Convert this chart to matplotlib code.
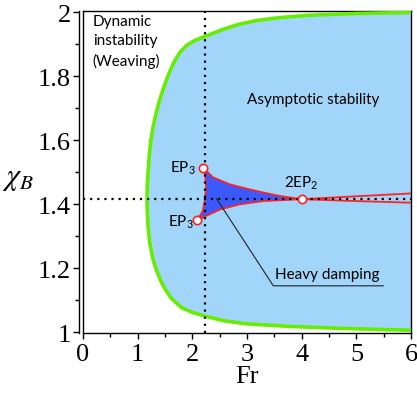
import numpy as np
import matplotlib
matplotlib.use("Agg")
import matplotlib.pyplot as plt
from matplotlib.ticker import MultipleLocator

# --- stability boundary (green) ---
upper_fr = [1.17, 1.175, 1.19, 1.21, 1.24, 1.28, 1.33, 1.39, 1.46, 1.55, 1.65, 1.77, 1.90, 2.05,
            2.23, 2.56, 2.85, 3.18, 3.60, 4.10, 5.00, 6.00]
upper_chi = [1.42, 1.46, 1.50, 1.55, 1.60, 1.64, 1.68, 1.72, 1.757, 1.80, 1.84, 1.875, 1.898, 1.913,
             1.925, 1.947, 1.963, 1.975, 1.984, 1.991, 1.997, 2.00]
lower_fr = [1.17, 1.175, 1.19, 1.22, 1.27, 1.33, 1.41, 1.50, 1.62, 1.80, 2.00, 2.23, 2.60, 3.00,
            3.79, 4.70, 6.00]
lower_chi = [1.42, 1.38, 1.33, 1.28, 1.235, 1.20, 1.165, 1.135, 1.105, 1.077, 1.062, 1.05, 1.035,
             1.026, 1.018, 1.012, 1.006]

# --- heavy damping region (dark blue) ---
hd_top_fr = [2.19, 2.38, 2.69, 2.99, 3.29, 3.60, 4.00]
hd_top_chi = [1.515, 1.484, 1.462, 1.449, 1.437, 1.426, 1.416]
hd_bot_fr = [4.00, 3.29, 2.87, 2.51, 2.09]
hd_bot_chi = [1.416, 1.410, 1.400, 1.384, 1.351]
hd_left_fr = [2.09, 2.19, 2.23, 2.25, 2.23, 2.19]
hd_left_chi = [1.351, 1.379, 1.416, 1.456, 1.500, 1.515]

# tails beyond the double EP2
tail_up_fr = [4.00, 5.00, 6.00]
tail_up_chi = [1.416, 1.425, 1.434]
tail_lo_fr = [4.00, 5.00, 6.00]
tail_lo_chi = [1.416, 1.410, 1.405]

# exceptional points
ep_fr = [2.19, 2.09, 4.00]
ep_chi = [1.515, 1.351, 1.416]

fr_crit = 2.23
chi_crit = 1.416

green = "#66ee00"
light = "#a2d5fa"
dark = "#3a5aff"
red = "#ff2222"

fig = plt.figure(figsize=(4.17, 4.06), dpi=100)
ax = fig.add_axes([0.199, 0.177, 0.787, 0.793])

# light blue stable region
poly_fr = upper_fr + [6.0] + lower_fr[::-1]
poly_chi = upper_chi + [1.006] + lower_chi[::-1]
ax.fill(poly_fr, poly_chi, color=light, lw=0, zorder=1)
ax.plot(upper_fr, upper_chi, color=green, lw=2.6, zorder=3, solid_capstyle="butt")
ax.plot(lower_fr, lower_chi, color=green, lw=2.6, zorder=3, solid_capstyle="butt")

# heavy damping
hd_fr = hd_top_fr + hd_bot_fr[1:] + hd_left_fr[1:]
hd_chi = hd_top_chi + hd_bot_chi[1:] + hd_left_chi[1:]
ax.fill(hd_fr, hd_chi, facecolor=dark, edgecolor=red, lw=1.3, zorder=4)
ax.plot(tail_up_fr, tail_up_chi, color=red, lw=1.3, zorder=4)
ax.plot(tail_lo_fr, tail_lo_chi, color=red, lw=1.3, zorder=4)

# dotted guides
ax.axvline(fr_crit, color="black", lw=1.6, ls=(0, (1, 2.2)), zorder=5)
ax.axhline(chi_crit, color="black", lw=1.6, ls=(0, (1, 2.2)), zorder=5)

ax.plot(ep_fr, ep_chi, "o", ms=6, mfc="white", mec=red, mew=1.2, zorder=6)

# leader for heavy damping
ax.plot([2.44, 3.48, 5.49], [1.418, 1.145, 1.145], color="#222222", lw=0.8, zorder=5)

sans = "Lato"
fs = 11
ax.text(0.18, 1.996, "Dynamic\ninstability\n(Weaving)", family=sans, fontsize=fs,
        va="top", ha="left", linespacing=1.5, zorder=7)
ax.text(4.21, 1.728, "Asymptotic stability", family=sans, fontsize=fs,
        va="center", ha="center", zorder=7)
ax.text(3.51, 1.181, "Heavy damping", family=sans, fontsize=fs,
        va="center", ha="left", zorder=7)
ax.text(2.06, 1.516, r"EP$_\mathregular{3}$", family=sans, fontsize=fs,
        va="center", ha="right", zorder=7)
ax.text(2.02, 1.347, r"EP$_\mathregular{3}$", family=sans, fontsize=fs,
        va="center", ha="right", zorder=7)
ax.text(4.0, 1.468, r"2EP$_\mathregular{2}$", family=sans, fontsize=fs,
        va="center", ha="center", zorder=7)

ax.set_xlim(0, 6)
ax.set_ylim(0.997, 2.004)
ax.xaxis.set_major_locator(MultipleLocator(1))
ax.xaxis.set_minor_locator(MultipleLocator(0.5))
ax.set_yticks([1, 1.2, 1.4, 1.6, 1.8, 2], ["1", "1.2", "1.4", "1.6", "1.8", "2"])
ax.yaxis.set_minor_locator(MultipleLocator(0.1))

serif = "Liberation Serif"
ax.tick_params(which="major", direction="out", length=4, width=1, pad=2,
               labelsize=19, labelfontfamily=serif)
ax.tick_params(which="minor", direction="out", length=3, width=1)
ax.tick_params(axis="x", pad=3)

for s in ax.spines.values():
    s.set_linewidth(1.0)
ax.spines["left"].set_position(("outward", 2.6))
# inner frame line (double left border)
ax.plot([0, 0], [0, 1], transform=ax.transAxes, color="black", lw=1.0, clip_on=False, zorder=8)

ax.set_xlabel("Fr", family=serif, fontsize=19, labelpad=0)
fig.text(0.004, 0.56, r"$\chi_B$", fontsize=22, math_fontfamily="stix", va="center", ha="left")

fig.savefig("out.png", dpi=100)
